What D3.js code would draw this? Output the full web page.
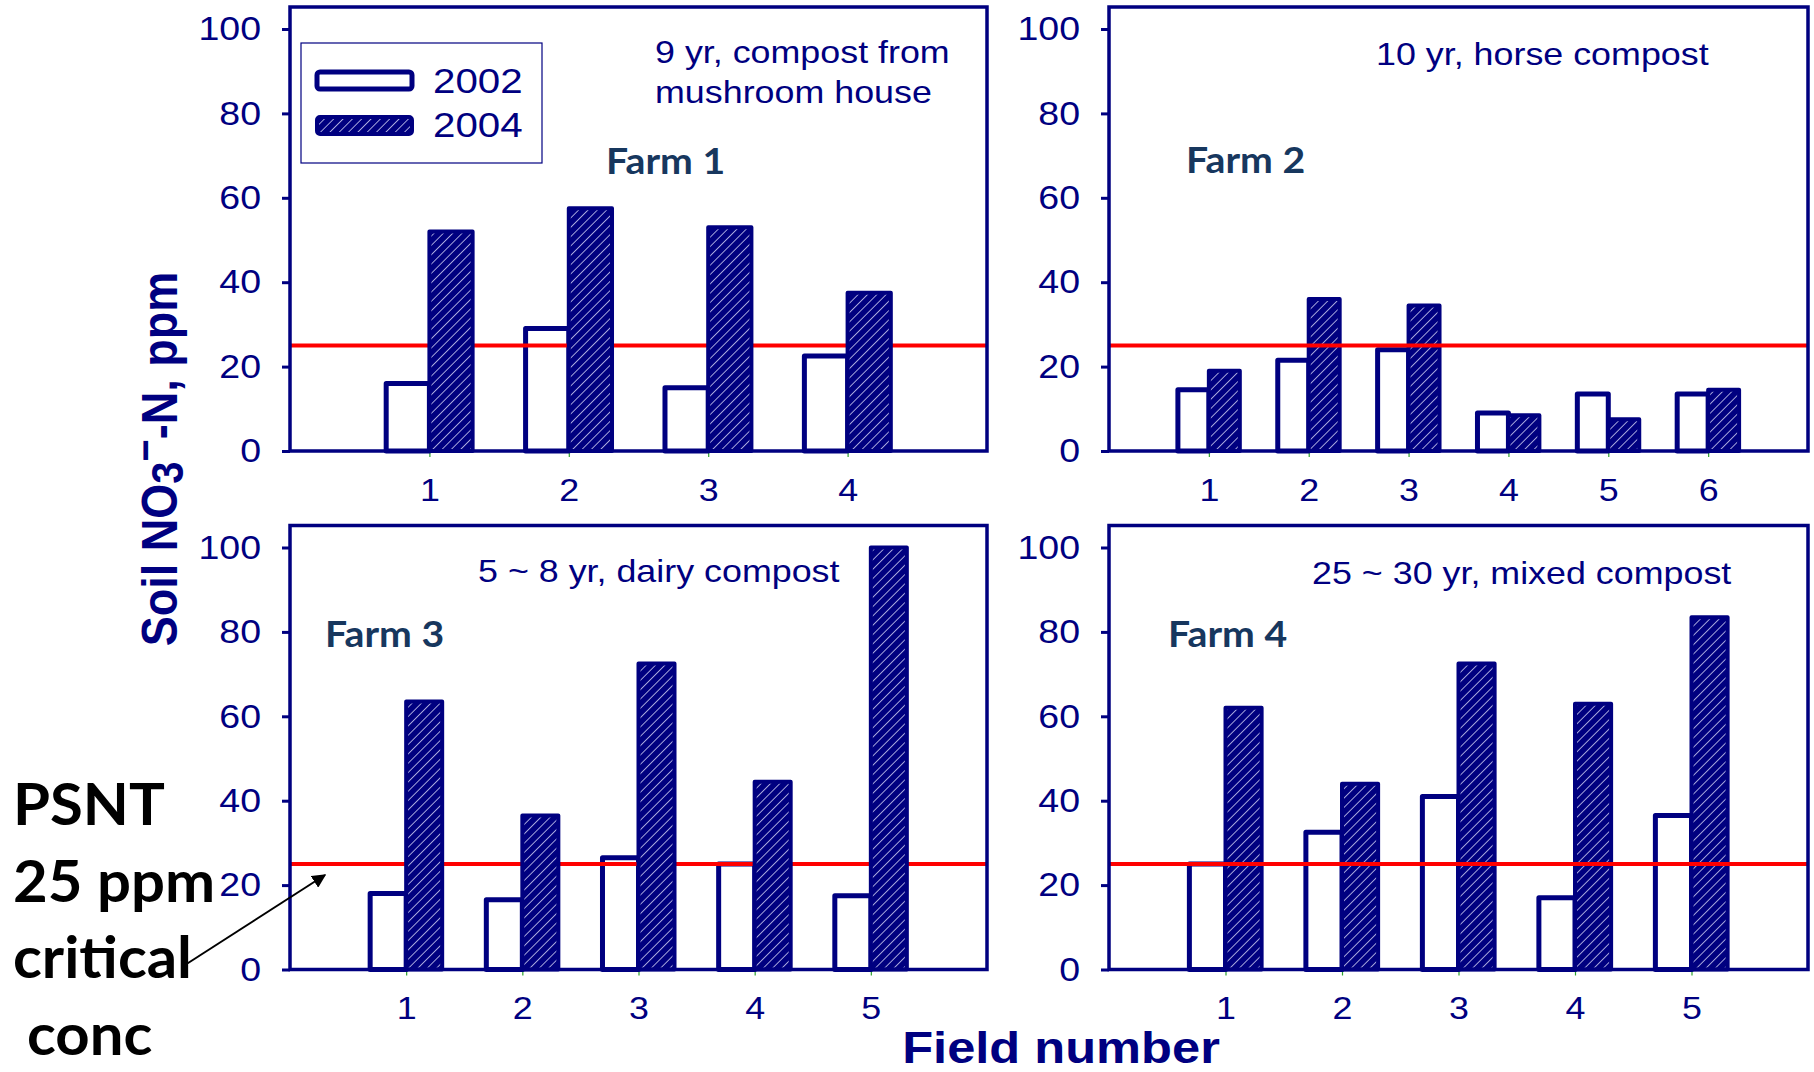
<!DOCTYPE html>
<html>
<head>
<meta charset="utf-8">
<script src="https://cdn.jsdelivr.net/npm/d3@7"></script>
<style>
  html, body { margin: 0; padding: 0; background: #ffffff; }
  svg { display: block; }
</style>
</head>
<body>
<svg id="chart" width="1814" height="1072"></svg>
<script>
// ---- data -------------------------------------------------------------
const farms = ["Farm 1", "Farm 2", "Farm 3", "Farm 4"];
const notes = [
  ["9 yr, compost from", "mushroom house"],
  ["10 yr, horse compost"],
  ["5 ~ 8 yr, dairy compost"],
  ["25 ~ 30 yr, mixed compost"]
];
const years = ["2002", "2004"];

const fields1 = [1, 2, 3, 4];
const fields2 = [1, 2, 3, 4, 5, 6];
const fields3 = [1, 2, 3, 4, 5];
const fields4 = [1, 2, 3, 4, 5];

const farm1_2002 = [16, 29, 15, 22.5];
const farm1_2004 = [52, 57.5, 53, 37.5];
const farm2_2002 = [14.5, 21.5, 24, 9, 13.5, 13.5];
const farm2_2004 = [19, 36, 34.5, 8.5, 7.5, 14.5];
const farm3_2002 = [18, 16.5, 26.5, 25, 17.5];
const farm3_2004 = [63.5, 36.5, 72.5, 44.5, 100];
const farm4_2002 = [25, 32.5, 41, 17, 36.5];
const farm4_2004 = [62, 44, 72.5, 63, 83.5];

const yTicks = [0, 20, 40, 60, 80, 100];
const criticalPPM = 25;

const yTitle = "Soil NO3-N, ppm";
const xTitle = "Field number";
const psntLines = ["PSNT", "25 ppm", "critical", "conc"];

// ---- styling / layout -------------------------------------------------
const NAVY = "#000080";
const FARM_COLOR = "#17375e";
const SX = 1.12;                       // horizontal text stretch
const ARIAL = "'Liberation Sans', Arial, sans-serif";
const CALIBRI = "Lato, 'Open Sans', sans-serif";

const panels = [
  { farm: farms[0], note: notes[0], fields: fields1, a: farm1_2002, b: farm1_2004 },
  { farm: farms[1], note: notes[1], fields: fields2, a: farm2_2002, b: farm2_2004 },
  { farm: farms[2], note: notes[2], fields: fields3, a: farm3_2002, b: farm3_2004 },
  { farm: farms[3], note: notes[3], fields: fields4, a: farm4_2002, b: farm4_2004 }
];

const frames = [
  { left: 290,  right: 987,  top: 7,     y0: 451,   y100: 29,    noteX: 655,  noteY: 63,  farmX: 606,  farmY: 174, lineOnTop: false },
  { left: 1109, right: 1808, top: 7,     y0: 451,   y100: 29,    noteX: 1376, noteY: 65,  farmX: 1186, farmY: 173, lineOnTop: true },
  { left: 290,  right: 987,  top: 525.5, y0: 969.5, y100: 547.5, noteX: 478,  noteY: 582, farmX: 325,  farmY: 647, lineOnTop: false },
  { left: 1109, right: 1808, top: 525.5, y0: 969.5, y100: 547.5, noteX: 1312, noteY: 584, farmX: 1168, farmY: 647, lineOnTop: true }
];

const svg = d3.select("#chart");

// hatch fill for the 2004 bars
const defs = svg.append("defs");
const hatch = defs.append("pattern")
  .attr("id", "hatch")
  .attr("patternUnits", "userSpaceOnUse")
  .attr("width", 6.6).attr("height", 6.6)
  .attr("patternTransform", "rotate(45)");
hatch.append("rect").attr("width", 6.6).attr("height", 6.6).attr("fill", NAVY);
hatch.append("line")
  .attr("x1", 3.3).attr("y1", 0).attr("x2", 3.3).attr("y2", 6.6)
  .attr("stroke", "#d4d4f4").attr("stroke-width", 0.9).attr("stroke-opacity", 0.85);

defs.append("marker")
  .attr("id", "arrowHead")
  .attr("viewBox", "0 0 10 10")
  .attr("refX", 9).attr("refY", 5)
  .attr("markerWidth", 7).attr("markerHeight", 7)
  .attr("markerUnits", "strokeWidth")
  .attr("orient", "auto")
  .append("path").attr("d", "M0,0 L10,5 L0,10 Z").attr("fill", "#000");

function stretchedText(g, x, y, str, opts) {
  return g.append("text")
    .attr("transform", `translate(${x},${y}) scale(${opts.sx || SX},1)`)
    .attr("font-family", opts.family || ARIAL)
    .attr("font-size", opts.size)
    .attr("font-weight", opts.weight || "normal")
    .attr("fill", opts.fill || NAVY)
    .attr("text-anchor", opts.anchor || "start")
    .text(str);
}

panels.forEach((p, i) => {
  const f = frames[i];
  const g = svg.append("g");

  const x = d3.scaleLinear().domain([0, p.fields.length + 1]).range([f.left, f.right]);
  const y = d3.scaleLinear().domain([0, 100]).range([f.y0, f.y100]);
  const bw = 0.31 * (x(1) - x(0));

  // y axis ticks and labels
  const yAxis = g.append("g")
    .attr("transform", `translate(${f.left},0)`)
    .call(d3.axisLeft(y).tickValues(yTicks).tickSize(8).tickPadding(21));
  yAxis.select(".domain").remove();
  yAxis.selectAll(".tick line").attr("stroke", NAVY).attr("stroke-width", 3);
  yAxis.selectAll(".tick text").each(function () {
    const t = d3.select(this);
    const tx = +t.attr("x");
    t.attr("x", tx / SX)
      .attr("transform", `scale(${SX},1)`)
      .attr("font-family", ARIAL)
      .attr("font-size", 33.5)
      .attr("fill", NAVY);
  });

  // x axis ticks and labels
  const xAxis = g.append("g")
    .attr("transform", `translate(0,${f.y0})`)
    .call(d3.axisBottom(x).tickValues(p.fields).tickFormat(d3.format("d")).tickSize(6).tickPadding(21));
  xAxis.select(".domain").remove();
  xAxis.selectAll(".tick line").attr("stroke", "#2ca02c").attr("stroke-width", 1.2);
  xAxis.selectAll(".tick text").each(function () {
    d3.select(this)
      .attr("x", 0)
      .attr("transform", `scale(${SX},1)`)
      .attr("font-family", ARIAL)
      .attr("font-size", 32)
      .attr("fill", NAVY);
  });

  // 2002 bars
  g.append("g").selectAll("rect")
    .data(p.fields.map((fld, k) => ({ fld, v: p.a[k] })))
    .join("rect")
    .attr("x", d => x(d.fld) - bw)
    .attr("y", d => y(d.v))
    .attr("width", bw)
    .attr("height", d => y(0) - y(d.v))
    .attr("fill", "#ffffff")
    .attr("stroke", NAVY)
    .attr("stroke-width", 5)
    .attr("stroke-linejoin", "round");

  const drawCritical = () => g.append("line")
    .attr("x1", f.left).attr("x2", f.right)
    .attr("y1", y(criticalPPM)).attr("y2", y(criticalPPM))
    .attr("stroke", "#ff0000").attr("stroke-width", 4);

  if (!f.lineOnTop) drawCritical();

  // 2004 bars
  g.append("g").selectAll("rect")
    .data(p.fields.map((fld, k) => ({ fld, v: p.b[k] })))
    .join("rect")
    .attr("x", d => x(d.fld))
    .attr("y", d => y(d.v))
    .attr("width", bw)
    .attr("height", d => y(0) - y(d.v))
    .attr("fill", "url(#hatch)")
    .attr("stroke", NAVY)
    .attr("stroke-width", 4)
    .attr("stroke-linejoin", "round");

  if (f.lineOnTop) drawCritical();

  // frame: x axis line, y axis line, top and right borders
  g.append("path")
    .attr("d", `M${f.left},${f.y0} L${f.left},${f.top} L${f.right},${f.top} L${f.right},${f.y0} Z`)
    .attr("fill", "none")
    .attr("stroke", NAVY)
    .attr("stroke-width", 3.5);

  // panel notes
  p.note.forEach((line, k) => {
    stretchedText(g, f.noteX, f.noteY + k * 40, line, { size: 32 });
  });
  stretchedText(g, f.farmX, f.farmY, p.farm, {
    size: 37, weight: "bold", family: CALIBRI, fill: FARM_COLOR, sx: 1.06
  });
});

// legend (inside the Farm 1 panel)
const legend = svg.append("g");
legend.append("rect")
  .attr("x", 301).attr("y", 43).attr("width", 241).attr("height", 120)
  .attr("fill", "#ffffff").attr("stroke", NAVY).attr("stroke-width", 1.2);
years.forEach((yr, k) => {
  const yy = 72 + k * 45;
  legend.append("rect")
    .attr("x", 317).attr("y", yy).attr("width", 95).attr("height", 17).attr("rx", 3)
    .attr("fill", k === 0 ? "#ffffff" : "url(#hatch)")
    .attr("stroke", NAVY).attr("stroke-width", k === 0 ? 5 : 4);
  stretchedText(legend, 433, 93 + k * 44, yr, { size: 36 });
});

// axis titles
const yt = svg.append("text")
  .attr("transform", `translate(177,459) scale(${SX},1) rotate(-90)`)
  .attr("text-anchor", "middle")
  .attr("font-family", ARIAL)
  .attr("font-size", 45)
  .attr("font-weight", "bold")
  .attr("fill", NAVY);
yt.append("tspan").text(yTitle.slice(0, 7));              // "Soil NO"
yt.append("tspan").attr("font-size", 40).attr("dy", 5).text(yTitle.slice(7, 8));   // "3"
yt.append("tspan").attr("font-size", 38).attr("dy", -20).text("\u2212");
yt.append("tspan").attr("dy", 15).text(yTitle.slice(8));   // "-N, ppm"

stretchedText(svg, 1061, 1063, xTitle, { size: 44, weight: "bold", anchor: "middle", sx: 1.15 });

// PSNT critical concentration note with arrow
const psntX = [13, 13, 13, 27];
const psntY = [825, 902, 978, 1055];
psntLines.forEach((s, k) => {
  svg.append("text")
    .attr("transform", `translate(${psntX[k]},${psntY[k]}) scale(1.05,1)`)
    .attr("font-family", CALIBRI)
    .attr("font-size", 57)
    .attr("font-weight", "bold")
    .attr("fill", "#000000")
    .text(s);
});
svg.append("line")
  .attr("x1", 185).attr("y1", 965)
  .attr("x2", 325).attr("y2", 875)
  .attr("stroke", "#000").attr("stroke-width", 2)
  .attr("marker-end", "url(#arrowHead)");
</script>
</body>
</html>
